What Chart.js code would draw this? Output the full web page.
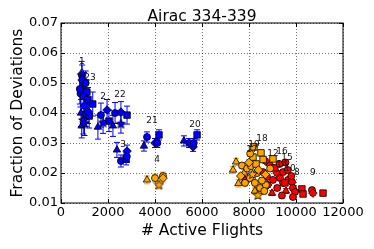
<!DOCTYPE html>
<html>
<head>
<meta charset="utf-8">
<script src="https://cdn.jsdelivr.net/npm/chart.js@4.4.0/dist/chart.umd.min.js"></script>
<style>
  html, body { margin: 0; padding: 0; background: #ffffff; }
  canvas { display: block; }
</style>
</head>
<body>
<canvas id="chart" width="374" height="249"></canvas>
<script>
// Tick values
var xTicks = [0, 2000, 4000, 6000, 8000, 10000, 12000];
var yTicks = [0.01, 0.02, 0.03, 0.04, 0.05, 0.06, 0.07];

// Blue points (early weeks)
var blueX = [880, 900, 980, 1050, 830, 1100, 950, 1150, 1000, 1350, 850, 1050, 1200, 950, 1150, 800, 880, 1000,
             1700, 1960, 2300, 2040, 1570, 1790, 2210, 2550, 2550, 2810,
             2380, 2810, 2550, 2770, 2800,
             3660, 4170, 3530, 4000, 4100,
             5230, 5450, 5620, 5790, 5650];
var blueY = [0.0527, 0.051, 0.0495, 0.050, 0.0465, 0.047, 0.0455, 0.0445, 0.0425, 0.043, 0.040, 0.0395, 0.039, 0.0375, 0.0405, 0.048, 0.0357, 0.0365,
             0.0393, 0.041, 0.040, 0.0373, 0.0353, 0.0367, 0.0357, 0.0403, 0.0363, 0.0393,
             0.0277, 0.0273, 0.024, 0.0247, 0.0255,
             0.032, 0.0327, 0.029, 0.030, 0.030,
             0.0307, 0.030, 0.0287, 0.0327, 0.030];
var blueErr = [0.0045, 0.005, 0.004, 0.004, 0.0045, 0.004, 0.004, 0.004, 0.004, 0.004, 0.0045, 0.004, 0.004, 0.0045, 0.004, 0.005, 0.004, 0.004,
               0.004, 0.0035, 0.0035, 0.0035, 0.004, 0.0035, 0.0035, 0.0035, 0.003, 0.003,
               0.0025, 0.002, 0.002, 0.002, 0.002,
               0.0017, 0.0017, 0.0017, 0.0015, 0.0015,
               0.0017, 0.0015, 0.0015, 0.0017, 0.0015];
var blueKind = ['o', 'o', 'D', 'o', 'o', 's', 'o', 's', 'D', 's', '^', 'o', 's', '*', 'D', 'o', '^', '*',
                'o', 'D', 'o', 's', '^', '*', '^', 'D', '*', 's',
                '^', 'D', 'o', 's', 'o',
                'o', 's', '^', 'D', 'o',
                '^', 'o', 'D', 's', 'o'];

// Orange points
var orangeX = [3660, 4000, 4340, 4170, 4340,
               7450, 7320, 7550, 7790, 7700, 7920, 8085, 8170, 8210, 8510, 8300, 8340, 8040, 8250, 8470,
               8720, 7830, 8000, 8400, 7650, 8600, 8050, 8150, 8550, 8900, 8700, 8250, 9020, 8650, 8380];
var orangeY = [0.0177, 0.0183, 0.019, 0.016, 0.0183,
               0.0237, 0.021, 0.0165, 0.020, 0.0225, 0.0215, 0.0223, 0.0253, 0.0287, 0.0267, 0.023, 0.020, 0.0183, 0.0167, 0.015,
               0.016, 0.0167, 0.0235, 0.021, 0.019, 0.0245, 0.0265, 0.0195, 0.0175, 0.0215, 0.0195, 0.014, 0.0247, 0.014, 0.0125];
var orangeErr = [0.0013, 0.0013, 0.0013, 0.0013, 0.0013,
                 0.0012, 0.0012, 0.0012, 0.0012, 0.001, 0.001, 0.001, 0.001, 0.0012, 0.001, 0.001, 0.001, 0.001, 0.001, 0.001,
                 0.001, 0.001, 0.001, 0.001, 0.001, 0.001, 0.001, 0.001, 0.001, 0.001, 0.001, 0.001, 0.001, 0.001, 0.001];
var orangeKind = ['^', 'o', 'o', '*', 'D',
                  '^', '^', '^', '^', 'o', 'o', 'o', 's', 's', 's', 's', 'o', 'o', 'o', 'o',
                  'o', 'o', 'D', 'D', 'D', 's', 'o', '*', 'o', 'o', 'D', '^', 's', 'o', '*'];

// Red points
var redX = [7830, 8600, 8890, 8770, 9020, 9190, 9320, 9450, 9450, 9660, 8980, 9830, 9530, 9870, 9960,
            10250, 10680, 10720, 11150, 9570, 9870, 9100, 9300, 9650, 9800, 9200, 8800, 10300, 9400, 8700, 9550];
var redY = [0.0177, 0.0203, 0.0227, 0.0187, 0.0177, 0.020, 0.0183, 0.0203, 0.0167, 0.0177, 0.0133, 0.017, 0.0167, 0.015, 0.0137,
            0.0147, 0.0143, 0.0133, 0.0133, 0.014, 0.012, 0.0217, 0.023, 0.021, 0.019, 0.015, 0.016, 0.013, 0.0125, 0.024, 0.0235];
var redErr = [0.001, 0.0008, 0.0008, 0.0008, 0.0008, 0.0008, 0.0008, 0.0008, 0.0008, 0.0008, 0.0008, 0.0008, 0.0008, 0.0008, 0.0008,
              0.0008, 0.0008, 0.0008, 0.0006, 0.0008, 0.0008, 0.0008, 0.0008, 0.0008, 0.0008, 0.0008, 0.0008, 0.0008, 0.0008, 0.0008, 0.0008];
var redKind = ['^', 'o', 'D', 'o', 'o', 'D', 'o', 'o', 'o', 'o', '^', 'o', 's', 'o', 'o',
               's', 'o', 'D', 's', '^', 'o', 's', 'o', 'o', 'o', 'o', 'D', 's', 'o', 'D', 'o'];

// Week labels
var labelText = ['1', '0', '23', '2', '22', '21', '3', '4', '20', '18', '19', '17', '16', '12', '15', '14', '10', '8', '9'];
var labelX = [890, 890, 1230, 1790, 2510, 3870, 2640, 4085, 5700, 8550, 8210, 8130, 9400, 9020, 9620, 9400, 9740, 10040, 10720];
var labelY = [0.057, 0.053, 0.0517, 0.0453, 0.046, 0.0373, 0.0293, 0.0243, 0.036, 0.0313, 0.0293, 0.0277, 0.027, 0.0263, 0.025, 0.0227, 0.0213, 0.020, 0.020];

var FONT = 'DejaVu Sans';

// filled star marker like matplotlib '*'
function starImage(fill) {
    var c = document.createElement('canvas');
    c.width = 11; c.height = 11;
    var g = c.getContext('2d');
    g.beginPath();
    for (var i = 0; i < 10; i++) {
        var r = i % 2 ? 2.3 : 5;
        var a = -Math.PI / 2 + i * Math.PI / 5;
        var px = 5.5 + r * Math.cos(a), py = 5.5 + r * Math.sin(a);
        if (i === 0) g.moveTo(px, py); else g.lineTo(px, py);
    }
    g.closePath();
    g.fillStyle = fill;
    g.fill();
    g.lineWidth = 0.8;
    g.strokeStyle = '#000';
    g.stroke();
    return c;
}

var markerStyle = { 'o': 'circle', 's': 'rect', '^': 'triangle', 'D': 'rectRot' };
var markerRadius = { 'o': 3.5, 's': 4.6, '^': 4.3, 'D': 4.3, '*': 5 };

function makeDataset(xs, ys, errs, kinds, color) {
    var star = starImage(color);
    return {
        data: xs.map(function(x, i) { return { x: x, y: ys[i], err: errs[i] }; }),
        backgroundColor: color,
        borderColor: '#000000',
        borderWidth: 0.8,
        pointStyle: kinds.map(function(k) { return k === '*' ? star : markerStyle[k]; }),
        pointRadius: kinds.map(function(k) { return markerRadius[k]; }),
        errColor: color
    };
}

// Error bars drawn under the markers
var errorBarPlugin = {
    id: 'errorBars',
    beforeDatasetsDraw: function(chart) {
        var ctx = chart.ctx;
        var yScale = chart.scales.y;
        ctx.save();
        chart.data.datasets.forEach(function(ds, di) {
            var meta = chart.getDatasetMeta(di);
            ctx.strokeStyle = ds.errColor;
            ctx.lineWidth = 1;
            meta.data.forEach(function(pt, i) {
                var d = ds.data[i];
                var top = yScale.getPixelForValue(d.y + d.err);
                var bot = yScale.getPixelForValue(d.y - d.err);
                ctx.beginPath();
                ctx.moveTo(pt.x, top); ctx.lineTo(pt.x, bot);
                ctx.moveTo(pt.x - 3, top); ctx.lineTo(pt.x + 3, top);
                ctx.moveTo(pt.x - 3, bot); ctx.lineTo(pt.x + 3, bot);
                ctx.stroke();
            });
        });
        ctx.restore();
    }
};

// Week numbers, axes frame and inward ticks
var framePlugin = {
    id: 'frame',
    afterDatasetsDraw: function(chart) {
        var ctx = chart.ctx;
        var a = chart.chartArea;
        var xs = chart.scales.x, ys = chart.scales.y;
        ctx.save();
        ctx.fillStyle = '#111';
        ctx.font = '9px "' + FONT + '"';
        ctx.textAlign = 'center';
        ctx.textBaseline = 'middle';
        labelText.forEach(function(t, i) {
            ctx.fillText(t, xs.getPixelForValue(labelX[i]), ys.getPixelForValue(labelY[i]));
        });
        ctx.strokeStyle = '#000';
        ctx.lineWidth = 1;
        ctx.strokeRect(a.left, a.top, a.right - a.left, a.bottom - a.top);
        ctx.beginPath();
        xTicks.forEach(function(v) {
            var p = Math.round(xs.getPixelForValue(v)) + 0.5;
            ctx.moveTo(p, a.bottom); ctx.lineTo(p, a.bottom - 4);
            ctx.moveTo(p, a.top); ctx.lineTo(p, a.top + 4);
        });
        yTicks.forEach(function(v) {
            var p = Math.round(ys.getPixelForValue(v)) + 0.5;
            ctx.moveTo(a.left, p); ctx.lineTo(a.left + 4, p);
            ctx.moveTo(a.right, p); ctx.lineTo(a.right - 4, p);
        });
        ctx.stroke();
        ctx.restore();
    }
};

var ctx = document.getElementById('chart').getContext('2d');
var chart = new Chart(ctx, {
    type: 'scatter',
    data: {
        datasets: [
            makeDataset(blueX, blueY, blueErr, blueKind, '#0000ff'),
            makeDataset(orangeX, orangeY, orangeErr, orangeKind, '#ffa500'),
            makeDataset(redX, redY, redErr, redKind, '#ff0000')
        ]
    },
    options: {
        responsive: false,
        animation: false,
        devicePixelRatio: 1,
        layout: {
            padding: { left: 0, right: 31, top: 0, bottom: 0 }
        },
        plugins: {
            legend: { display: false },
            tooltip: { enabled: false },
            title: {
                display: true,
                fullSize: false,
                text: 'Airac 334-339',
                color: '#000',
                font: { family: FONT, size: 15.5, weight: 'normal', lineHeight: 0.8 },
                padding: { top: 10.3, bottom: 0.3 }
            }
        },
        scales: {
            x: {
                type: 'linear',
                min: 0,
                max: 12000,
                afterFit: function(s) { s.height = 46; },
                afterBuildTicks: function(s) { s.ticks = xTicks.map(function(v) { return { value: v }; }); },
                ticks: {
                    color: '#000',
                    font: { family: FONT, size: 13 },
                    padding: 2,
                    maxRotation: 0,
                    autoSkip: false,
                    callback: function(v) { return String(v); }
                },
                grid: { color: 'rgba(0,0,0,0.55)', lineWidth: 1, drawTicks: false },
                border: { display: false, dash: [1, 2] },
                title: {
                    display: true,
                    text: '# Active Flights',
                    color: '#000',
                    font: { family: FONT, size: 15.5 },
                    padding: { top: 0, bottom: 8.4 }
                }
            },
            y: {
                type: 'linear',
                min: 0.01,
                max: 0.07,
                afterFit: function(s) { s.width = 61; },
                afterBuildTicks: function(s) { s.ticks = yTicks.map(function(v) { return { value: v }; }); },
                ticks: {
                    color: '#000',
                    font: { family: FONT, size: 13 },
                    padding: 3,
                    autoSkip: false,
                    callback: function(v) { return v.toFixed(2); }
                },
                grid: { color: 'rgba(0,0,0,0.55)', lineWidth: 1, drawTicks: false },
                border: { display: false, dash: [1, 2] },
                title: {
                    display: true,
                    text: 'Fraction of Deviations',
                    color: '#000',
                    font: { family: FONT, size: 15.5 },
                    padding: { top: 9, bottom: 0 }
                }
            }
        }
    },
    plugins: [errorBarPlugin, framePlugin]
});
</script>
</body>
</html>
